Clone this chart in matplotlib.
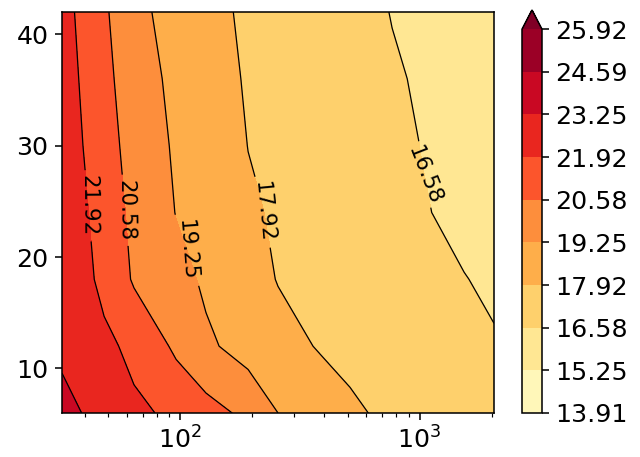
import numpy as np
import matplotlib
matplotlib.use('Agg')
import matplotlib.pyplot as plt

# grid of the surface (rows = y, cols = x)
xvals = [32, 48, 64, 96, 128, 192, 256, 384, 512, 768, 1024, 1536, 2048]
yvals = [6, 12, 18, 24, 30, 36, 42]
zvals = [
	[23.58, 22.79, 22.23, 21.53, 21.07, 20.22, 19.25, 18.62, 18.10, 17.62, 17.40, 17.08, 16.86],
	[23.03, 22.27, 21.49, 20.35, 19.44, 18.73, 18.30, 17.82, 17.62, 17.34, 17.15, 16.87, 16.67],
	[23.09, 21.48, 20.45, 19.62, 19.06, 18.31, 17.87, 17.58, 17.38, 17.10, 16.90, 16.61, 16.41],
	[22.85, 21.26, 20.27, 19.21, 18.73, 18.07, 17.76, 17.43, 17.20, 16.87, 16.64, 16.34, 16.13],
	[22.62, 21.05, 20.09, 19.05, 18.56, 17.90, 17.67, 17.34, 17.11, 16.79, 16.56, 16.31, 16.13],
	[22.47, 20.89, 19.88, 18.87, 18.37, 17.80, 17.57, 17.24, 17.01, 16.68, 16.47, 16.22, 16.04],
	[22.32, 20.75, 19.58, 18.70, 18.21, 17.72, 17.48, 17.13, 16.89, 16.55, 16.37, 16.11, 15.93],
]
levels = [13.913, 15.2471, 16.5812, 17.9153, 19.2494, 20.5836, 21.9177, 23.2518, 24.5859, 25.92]

# where the inline labels sit (data coords)
label_pos = [(39.8, 24.6), (55.2, 24.2), (101.9, 20.6), (211, 24.0), (1039, 27.3)]

X, Y = np.meshgrid(xvals, yvals)
Z = np.array(zvals)

fig = plt.figure(figsize=(640 / 140., 457 / 140.), dpi=140)
ax = fig.add_axes([62 / 640., 44 / 457., 432 / 640., 401 / 457.])
cax = fig.add_axes([522 / 640., 44 / 457., 20 / 640., 403 / 457.])

cf = ax.contourf(X, Y, Z, levels=levels, cmap='YlOrRd', extend='max')
cs = ax.contour(X, Y, Z, levels=levels, colors='k', linewidths=0.65)
ax.clabel(cs, fmt='%.2f', fontsize=11, inline=True, manual=label_pos)

ax.set_xscale('log')
ax.set_xlim(32, 2048)
ax.set_ylim(6, 42)
ax.tick_params(labelsize=13)

cb = fig.colorbar(cf, cax=cax, ticks=levels, format='%.2f')
cb.ax.tick_params(labelsize=13)

fig.savefig('out.png', dpi=140)
